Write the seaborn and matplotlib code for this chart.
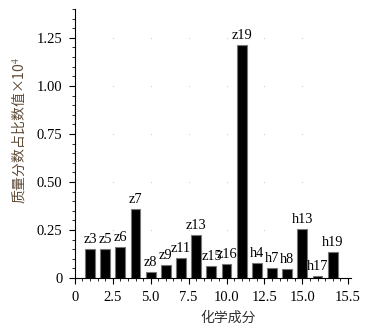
import numpy as np
import pandas as pd
import matplotlib
matplotlib.use("Agg")
import matplotlib.pyplot as plt
from matplotlib.ticker import MultipleLocator, FixedLocator, FixedFormatter
import seaborn as sns

# Components and their mass-fraction share (×10^4)
components = ["z3", "z5", "z6", "z7", "z8", "z9", "z11", "z13", "z15", "z16",
              "z19", "h4", "h7", "h8", "h13", "h17", "h19"]
values = [0.153, 0.153, 0.160, 0.359, 0.030, 0.066, 0.103, 0.222, 0.063, 0.071,
          1.211, 0.078, 0.050, 0.047, 0.257, 0.010, 0.135]
x_tick_pos = [0, 2.5, 5.0, 7.5, 10.0, 12.5, 15.0, 18.0]
x_tick_labels = ["0", "2.5", "5.0", "7.5", "10.0", "12.5", "15.0", "15.5"]
y_tick_pos = [0, 0.25, 0.50, 0.75, 1.00, 1.25]
y_tick_labels = ["0", "0.25", "0.50", "0.75", "1.00", "1.25"]

df = pd.DataFrame({"pos": np.arange(1, len(components) + 1), "val": values, "name": components})

sns.set_style("white")
serif = ["Liberation Serif", "DejaVu Serif"]
cjk = ["Noto Sans CJK SC", "Liberation Serif"]
plt.rcParams["font.family"] = serif
plt.rcParams["mathtext.fontset"] = "stix"

fig = plt.figure(figsize=(3.69, 3.35), dpi=100)
ax = fig.add_axes([0.203, 0.170, 0.748, 0.803])

sns.barplot(data=df, x="pos", y="val", native_scale=True, width=0.65,
            color="black", saturation=1, edgecolor="#777777", linewidth=0.8, ax=ax)

for xp, v, name in zip(df["pos"], df["val"], df["name"]):
    ax.text(xp, v + 0.016, name, ha="center", va="bottom", fontsize=10.3,
            color="black", family=serif)

ax.set_xlim(0, 18.2)
ax.set_ylim(0, 1.4)

ax.xaxis.set_major_locator(FixedLocator(x_tick_pos))
ax.xaxis.set_major_formatter(FixedFormatter(x_tick_labels))
ax.xaxis.set_minor_locator(MultipleLocator(0.5))
ax.yaxis.set_major_locator(FixedLocator(y_tick_pos))
ax.yaxis.set_major_formatter(FixedFormatter(y_tick_labels))
ax.yaxis.set_minor_locator(MultipleLocator(0.05))

ax.tick_params(axis="both", which="major", direction="out", length=4, width=0.8,
               labelsize=10.5, colors="black", pad=5, left=True, bottom=True)
ax.tick_params(axis="both", which="minor", direction="out", length=2.5, width=0.7,
               left=True, bottom=True)

for side in ("top", "right"):
    ax.spines[side].set_visible(False)
for side in ("left", "bottom"):
    ax.spines[side].set_color("black")
    ax.spines[side].set_linewidth(0.8)

# faint dots at grid intersections
gx, gy = np.meshgrid(x_tick_pos[1:-1], y_tick_pos[1:])
ax.scatter(gx.ravel(), gy.ravel(), s=0.6, color="#c8c8c8", zorder=0, linewidths=0)

ax.set_xlabel("化学成分", family=cjk, fontsize=10, color="#333333")
ax.xaxis.set_label_coords(0.554, -0.149)
ax.xaxis.label.set_verticalalignment("center")
ax.set_ylabel("质量分数占比数值×10$^{4}$", family=cjk, fontsize=10, color="#5e4a36")
ax.yaxis.set_label_coords(-0.207, 0.55)
ax.yaxis.label.set_verticalalignment("center")

fig.savefig("out.png", dpi=100)
